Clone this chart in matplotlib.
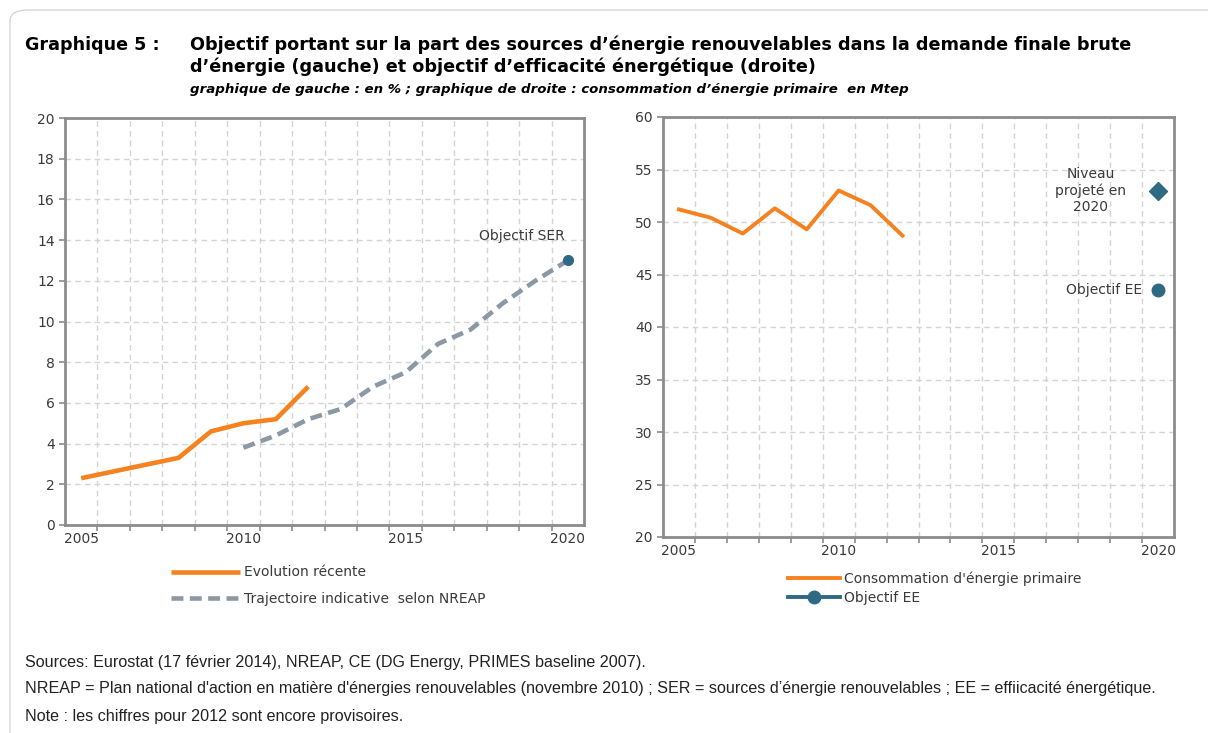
import numpy as np
import matplotlib
matplotlib.use("Agg")
import matplotlib.pyplot as plt
from matplotlib.patches import FancyBboxPatch

# Données
annees_ser = [2005, 2008, 2009, 2010, 2011, 2012]
part_ser = [2.3, 3.3, 4.6, 5.0, 5.2, 6.8]
annees_nreap = list(range(2010, 2021))
trajectoire_nreap = [3.8, 4.4, 5.2, 5.7, 6.8, 7.5, 8.9, 9.6, 10.9, 12.0, 13.0]
objectif_ser = 13.0

annees_conso = list(range(2005, 2013))
conso_primaire = [51.2, 50.4, 48.9, 51.3, 49.3, 53.0, 51.6, 48.7]
niveau_projete = 53.0
objectif_ee = 43.5

orange = "#F5821F"
gris = "#8D98A5"
bleu = "#2E6A84"
cadre = "#8C8C8C"
texte = "#3A3A3A"

fig = plt.figure(figsize=(12.08, 7.33), dpi=100)
W, H = 1208, 733


def box(x0, y0, x1, y1):
    return [x0 / W, 1 - y1 / H, (x1 - x0) / W, (y1 - y0) / H]


# cadre arrondi autour du graphique
fig.patches.append(FancyBboxPatch((10 / W, -0.05), 1.2, 1 - 10 / H + 0.05,
                                  boxstyle="round,pad=0,rounding_size=0.015",
                                  transform=fig.transFigure, fc="none",
                                  ec="#D6D6D6", lw=1))


def style_axe(ax, ymin, ymax, ystep):
    ax.set_xlim(2004.5, 2020.5)
    ax.set_ylim(ymin, ymax)
    ax.set_xticks([2005, 2010, 2015, 2020])
    ax.set_xticks(np.arange(2005.5, 2020, 1), minor=True)
    ax.set_yticks(np.arange(ymin, ymax + 0.1, ystep))
    ax.tick_params(axis="x", which="major", length=0, pad=5, labelsize=10, labelcolor=texte)
    ax.tick_params(axis="x", which="minor", length=4, width=1.2, color=cadre)
    ax.tick_params(axis="y", length=4, width=1.2, color=cadre, labelsize=10, labelcolor=texte)
    ax.grid(axis="x", which="minor", color="#D4D4D4", ls=(0, (4, 3)), lw=1)
    ax.grid(axis="y", which="major", color="#D4D4D4", ls=(0, (4, 3)), lw=1)
    for s in ax.spines.values():
        s.set_color(cadre)
        s.set_linewidth(2)
    ax.set_axisbelow(True)


# graphique de gauche
ax1 = fig.add_axes(box(65, 118, 584, 525))
style_axe(ax1, 0, 20, 2)
ax1.plot(annees_ser, part_ser, color=orange, lw=3.3, solid_capstyle="butt",
         label="Evolution récente")
ax1.plot(annees_nreap, trajectoire_nreap, color=gris, lw=3.3, dashes=(2.6, 1.4),
         label="Trajectoire indicative  selon NREAP")
ax1.plot([2020], [objectif_ser], "o", color=bleu, ms=7, label="_nolegend_", clip_on=False)
ax1.text(2019.9, 14.2, "Objectif SER", ha="right", va="center", fontsize=10, color=texte)

# graphique de droite
ax2 = fig.add_axes(box(663, 117, 1174, 537))
style_axe(ax2, 20, 60, 5)
ax2.plot(annees_conso, conso_primaire, color=orange, lw=2.8,
         label="Consommation d'énergie primaire")
ax2.plot([2020], [objectif_ee], "-o", color=bleu, lw=2.8, ms=9, label="Objectif EE",
         clip_on=False)
ax2.plot([2020], [niveau_projete], "D", color=bleu, ms=9, label="_nolegend_", clip_on=False)
ax2.text(2017.9, 53.0, "Niveau\nprojeté en\n2020", ha="center", va="center",
         fontsize=10, color=texte, linespacing=1.2)
ax2.text(2019.5, objectif_ee, "Objectif EE", ha="right", va="center", fontsize=10, color=texte)

fig.legend(*ax1.get_legend_handles_labels(), loc="upper left",
           bbox_to_anchor=(158 / W, 1 - 553 / H), frameon=False, fontsize=10,
           handlelength=5.0, handletextpad=0.3, labelspacing=0.9, labelcolor=texte)
fig.legend(*ax2.get_legend_handles_labels(), loc="upper left",
           bbox_to_anchor=(776 / W, 1 - 559 / H), frameon=False, fontsize=10,
           handlelength=3.7, handletextpad=0.3, labelspacing=0.35, labelcolor=texte)

# titres
fig.text(25 / W, 1 - 45 / H, "Graphique 5 :", fontsize=12.6, weight="bold", va="center")
fig.text(190 / W, 1 - 45 / H,
         "Objectif portant sur la part des sources d’énergie renouvelables dans la demande finale brute",
         fontsize=12.7, weight="bold", va="center")
fig.text(190 / W, 1 - 67 / H, "d’énergie (gauche) et objectif d’efficacité énergétique (droite)",
         fontsize=12.7, weight="bold", va="center")
fig.text(190 / W, 1 - 89 / H,
         "graphique de gauche : en % ; graphique de droite : consommation d’énergie primaire  en Mtep",
         fontsize=9.6, weight="bold", style="italic", va="center")

# notes
notes = [
    "Sources: Eurostat (17 février 2014), NREAP, CE (DG Energy, PRIMES baseline 2007).",
    "NREAP = Plan national d'action en matière d'énergies renouvelables (novembre 2010) ; "
    "SER = sources d’énergie renouvelables ; EE = effiicacité énergétique.",
    "Note : les chiffres pour 2012 sont encore provisoires.",
]
for i, n in enumerate(notes):
    fig.text(25 / W, 1 - (662 + 27 * i) / H, n, fontsize=11.6, family="Liberation Sans",
             va="center", color="#222222")

fig.savefig("out.png", dpi=100)
